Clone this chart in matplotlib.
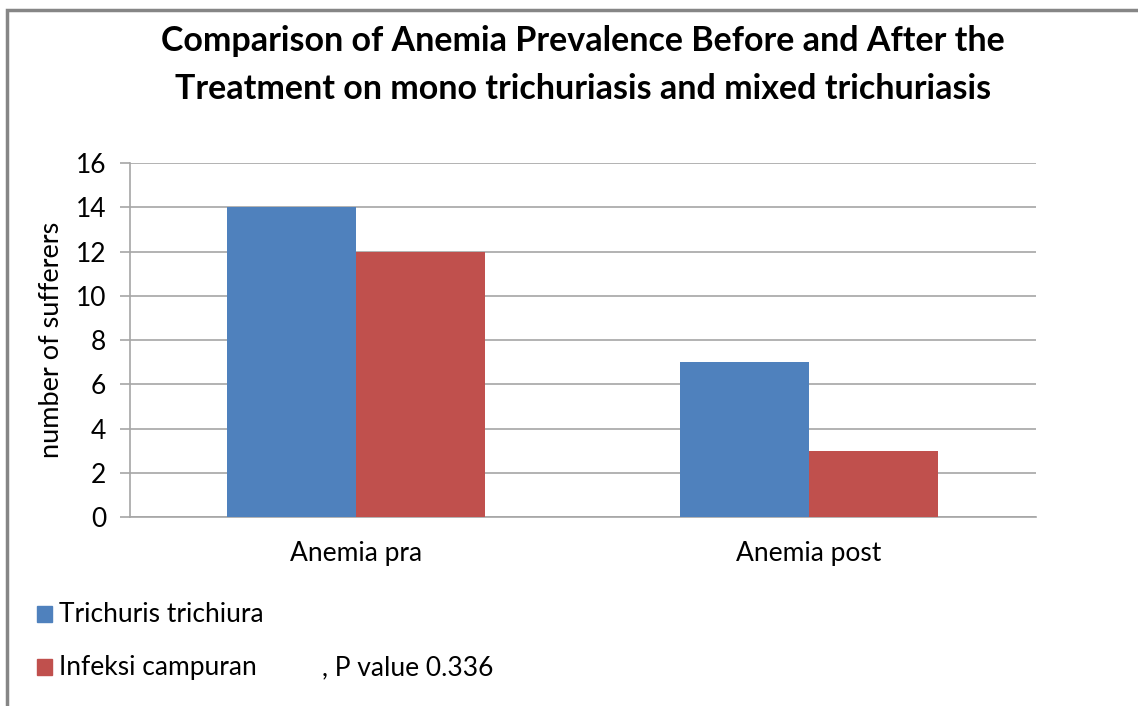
import matplotlib.pyplot as plt
from matplotlib.patches import Rectangle
import numpy as np

plt.rcParams["font.family"] = ["Lato", "DejaVu Sans"]

# Data
categories = ["Anemia pra", "Anemia post"]
trichuris = [14, 7]
campuran = [12, 3]
series_names = ["Trichuris trichiura", "Infeksi campuran"]
p_value_text = ", P value 0.336"
title = ("Comparison of Anemia Prevalence Before and After the\n"
         "Treatment on mono trichuriasis and mixed trichuriasis")

blue = "#4f81bd"
red = "#c0504d"
grid_col = "#a6a6a6"

fig = plt.figure(figsize=(11.38, 7.06), dpi=100)
ax = fig.add_axes([0.1142, 0.2677, 0.7958, 0.5014])

# Chart frame
fig.patches.append(Rectangle((7 / 1138, -0.05), 1.2, 1.05 - 10 / 706,
                             transform=fig.transFigure, fill=False,
                             edgecolor="#868686", linewidth=2.5))

x = np.arange(len(categories))
w = 0.285
ax.bar(x - w / 2, trichuris, w, color=blue, zorder=3)
ax.bar(x + w / 2, campuran, w, color=red, zorder=3)

ax.set_xlim(-0.5, len(categories) - 0.5)
ax.set_ylim(0, 16)
ax.set_yticks(np.arange(0, 17, 2))
ax.yaxis.grid(True, color=grid_col, linewidth=1.2, zorder=0)
ax.set_xticks(x)
ax.set_xticklabels(categories, fontsize=19)
ax.tick_params(axis="x", length=0, pad=17)
ax.tick_params(axis="y", length=7, color=grid_col, width=1.2, labelsize=19, pad=10)
for s in ["top", "right"]:
    ax.spines[s].set_visible(False)
ax.spines["left"].set_color(grid_col)
ax.spines["bottom"].set_color(grid_col)
ax.spines["left"].set_linewidth(1.2)
ax.spines["bottom"].set_linewidth(1.2)

ax.set_ylabel("number of sufferers", fontsize=19.5)
ax.yaxis.set_label_coords(-0.073, 0.5)

fig.text(0.512, 0.908, title, ha="center", va="center", fontsize=24.5,
         fontweight="bold", linespacing=1.6)

# Legend drawn below the axes
for i, (name, col) in enumerate(zip(series_names, [blue, red])):
    yc = 1 - (614 + 53 * i) / 706
    fig.patches.append(Rectangle((37 / 1138, yc - 8 / 706), 15 / 1138, 16 / 706,
                                 transform=fig.transFigure, color=col))
    fig.text(59 / 1138, yc, name, ha="left", va="center", fontsize=19)
fig.text(322 / 1138, 1 - 668 / 706, p_value_text, ha="left", va="center", fontsize=19)

fig.savefig("out.png", dpi=100)
